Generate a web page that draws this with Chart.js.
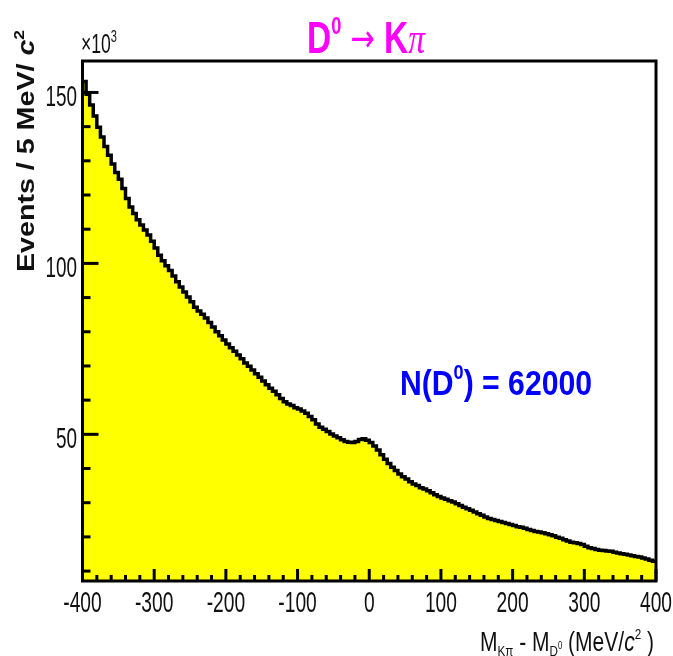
<!DOCTYPE html>
<html>
<head>
<meta charset="utf-8">
<script src="https://cdn.jsdelivr.net/npm/chart.js@4.4.1/dist/chart.umd.min.js"></script>
<style>
  html, body { margin: 0; padding: 0; background: #fff; }
  #hist { display: block; }
</style>
</head>
<body>
<canvas id="hist" width="673" height="656"></canvas>
<script>
// ===== DADOS DO HISTOGRAMA (M_Kpi - M_D0, bins de 5 MeV) =====

const BIN_LOW = -400;
const BIN_WIDTH = 5;

// eventos por bin, em unidades de 10^3
const eventsK = [
    153.2, 149.5, 146.3, 143.1, 139.8, 137.0, 134.2, 131.6, 129.1, 126.6,
    124.6, 121.9, 119.0, 116.5, 114.6, 112.8, 111.2, 109.8, 108.3, 106.5,
    104.5, 102.4, 100.8, 99.3, 97.9, 96.3, 94.6, 93.1, 91.6, 90.2,
    88.8, 87.2, 86.1, 85.1, 84.0, 82.7, 81.4, 80.0, 78.8, 77.6,
    76.4, 75.3, 74.3, 73.2, 72.1, 70.9, 69.9, 68.8, 67.7, 66.7,
    65.6, 64.5, 63.5, 62.6, 61.6, 60.5, 59.5, 58.9, 58.4, 57.8,
    57.4, 56.8, 56.2, 55.2, 54.3, 53.0, 52.1, 51.5, 50.8, 50.1,
    49.5, 49.0, 48.4, 47.9, 47.7, 47.6, 47.9, 48.5, 48.7, 48.3,
    47.6, 46.6, 45.4, 44.0, 42.7, 41.5, 40.4, 39.4, 38.4, 37.6,
    36.9, 36.1, 35.5, 35.0, 34.4, 34.0, 33.5, 32.9, 32.3, 31.8,
    31.4, 31.0, 30.6, 30.2, 29.7, 29.2, 28.7, 28.2, 27.8, 27.3,
    26.8, 26.3, 25.8, 25.4, 25.1, 24.8, 24.5, 24.2, 23.9, 23.6,
    23.3, 23.0, 22.8, 22.5, 22.2, 21.9, 21.6, 21.4, 21.2, 20.9,
    20.6, 20.3, 19.9, 19.6, 19.2, 18.8, 18.4, 18.3, 18.1, 17.8,
    17.3, 16.8, 16.6, 16.3, 16.1, 16.0, 15.9, 15.8, 15.5, 15.3,
    15.1, 14.9, 14.7, 14.5, 14.3, 14.1, 13.8, 13.5, 13.2, 12.9
];

const xTickValues = [-400, -300, -200, -100, 0, 100, 200, 300, 400];
const yTickValues = [50, 100, 150];

// ===== PONTOS DO HISTOGRAMA (duas bordas por bin) =====

const histPoints = [];
eventsK.forEach((v, i) => {
    const lo = BIN_LOW + i * BIN_WIDTH;
    histPoints.push({ x: lo, y: v }, { x: lo + BIN_WIDTH, y: v });
});

// ===== TEXTO COM SOBRESCRITO / SUBSCRITO =====

const drawRich = (ctx, parts, x, y, width) => {
    let total = 0;
    parts.forEach(p => {
        ctx.font = p.font;
        p.w = ctx.measureText(p.text).width;
        total += p.w;
    });
    const sx = width ? width / total : 1;
    ctx.save();
    ctx.translate(x, y);
    ctx.scale(sx, 1);
    ctx.textBaseline = 'alphabetic';
    ctx.textAlign = 'left';
    let cx = 0;
    parts.forEach(p => {
        ctx.font = p.font;
        ctx.fillStyle = p.color || '#111';
        ctx.fillText(p.text, cx, p.dy || 0);
        cx += p.w;
    });
    ctx.restore();
};

const drawLabel = (ctx, text, cx, baseline, sx, align) => {
    ctx.save();
    ctx.font = '30px "Liberation Sans", Arial, sans-serif';
    const w = ctx.measureText(text).width * sx;
    const left = align === 'right' ? cx - w : cx - w / 2;
    ctx.translate(left, baseline);
    ctx.scale(sx, 1);
    ctx.fillStyle = '#111';
    ctx.textAlign = 'left';
    ctx.textBaseline = 'alphabetic';
    ctx.fillText(text, 0, 0);
    ctx.restore();
};

// ===== PLUGIN: MOLDURA E MARCAS ESTILO ROOT =====

const rootFrame = {
    id: 'rootFrame',
    afterDatasetsDraw(chart) {
        const { ctx, chartArea: a, scales: { x, y } } = chart;
        ctx.save();
        ctx.strokeStyle = '#000';
        ctx.lineWidth = 3;

        // marcas do eixo y (para dentro)
        for (let v = 10; v <= y.max; v += 10) {
            const py = y.getPixelForValue(v);
            const len = v % 50 === 0 ? 16 : 8;
            ctx.beginPath();
            ctx.moveTo(a.left, py);
            ctx.lineTo(a.left + len, py);
            ctx.stroke();
        }
        // marcas do eixo x (para dentro)
        for (let v = x.min; v <= x.max; v += 20) {
            const px = x.getPixelForValue(v);
            const len = v % 100 === 0 ? 12 : 6;
            ctx.beginPath();
            ctx.moveTo(px, a.bottom);
            ctx.lineTo(px, a.bottom - len);
            ctx.stroke();
        }
        ctx.strokeRect(a.left, a.top, a.right - a.left, a.bottom - a.top);
        ctx.restore();

        // rótulos
        yTickValues.forEach(v => drawLabel(ctx, String(v), 77, y.getPixelForValue(v) + 14, 0.63, 'right'));
        xTickValues.forEach(v => drawLabel(ctx, String(v), x.getPixelForValue(v), 612, 0.64, 'center'));

        const sans = '"Liberation Sans", Arial, sans-serif';

        // título
        drawRich(ctx, [
            { text: 'D', font: 'bold 44px ' + sans, color: '#ff00ff' },
            { text: '0', font: 'bold 24px ' + sans, color: '#ff00ff', dy: -19 },
            { text: ' \u2192 ', font: '38px "DejaVu Sans", sans-serif', color: '#ff00ff', dy: -2 },
            { text: 'K', font: 'bold 44px ' + sans, color: '#ff00ff' },
            { text: '\u03C0', font: 'italic 44px "Liberation Serif", serif', color: '#ff00ff' }
        ], 307, 53, 118);

        // x10^3
        drawRich(ctx, [
            { text: '\u00D710', font: '27px ' + sans },
            { text: '3', font: '17px ' + sans, dy: -11 }
        ], 81, 53, 36);

        // N(D0) = 62000
        drawRich(ctx, [
            { text: 'N(D', font: 'bold 35px ' + sans, color: '#0000ff' },
            { text: '0', font: 'bold 21px ' + sans, color: '#0000ff', dy: -16 },
            { text: ') = 62000', font: 'bold 35px ' + sans, color: '#0000ff' }
        ], 400, 395, 192);

        // título do eixo x
        drawRich(ctx, [
            { text: 'M', font: '27px ' + sans },
            { text: 'K\u03C0', font: '15px ' + sans, dy: 5 },
            { text: ' - M', font: '27px ' + sans },
            { text: 'D', font: '15px ' + sans, dy: 5 },
            { text: '0', font: '10px ' + sans, dy: -2 },
            { text: ' (MeV/', font: '27px ' + sans },
            { text: 'c', font: 'italic 27px ' + sans },
            { text: '2', font: '15px ' + sans, dy: -12 },
            { text: ' )', font: '27px ' + sans }
        ], 480, 651, 174);

        // título do eixo y (rotacionado)
        ctx.save();
        ctx.translate(34, 272);
        ctx.rotate(-Math.PI / 2);
        drawRich(ctx, [
            { text: 'Events / 5 MeV/ ', font: 'bold 23px ' + sans },
            { text: 'c', font: 'bold italic 23px ' + sans },
            { text: '2', font: 'bold 14px ' + sans, dy: -10 }
        ], 0, 0, 242);
        ctx.restore();
    }
};

// ===== GRÁFICO =====

const ctx = document.getElementById('hist');
new Chart(ctx, {
    type: 'line',
    data: {
        datasets: [{
            label: 'D0 -> Kpi',
            data: histPoints,
            borderColor: '#000',
            borderWidth: 3.5,
            backgroundColor: '#ffff00',
            fill: 'start',
            pointRadius: 0,
            tension: 0,
            borderJoinStyle: 'miter'
        }]
    },
    options: {
        responsive: false,
        animation: false,
        events: [],
        layout: { padding: { top: 61, right: 17, left: 0, bottom: 0 } },
        plugins: {
            legend: { display: false },
            tooltip: { enabled: false }
        },
        scales: {
            x: {
                type: 'linear',
                min: -400,
                max: 400,
                grid: { display: false },
                border: { display: false },
                ticks: { display: false },
                afterFit: s => { s.height = 75; }
            },
            y: {
                min: 7.1,
                max: 159.2,
                grid: { display: false },
                border: { display: false },
                ticks: { display: false },
                afterFit: s => { s.width = 82.5; }
            }
        }
    },
    plugins: [rootFrame]
});
</script>
</body>
</html>
